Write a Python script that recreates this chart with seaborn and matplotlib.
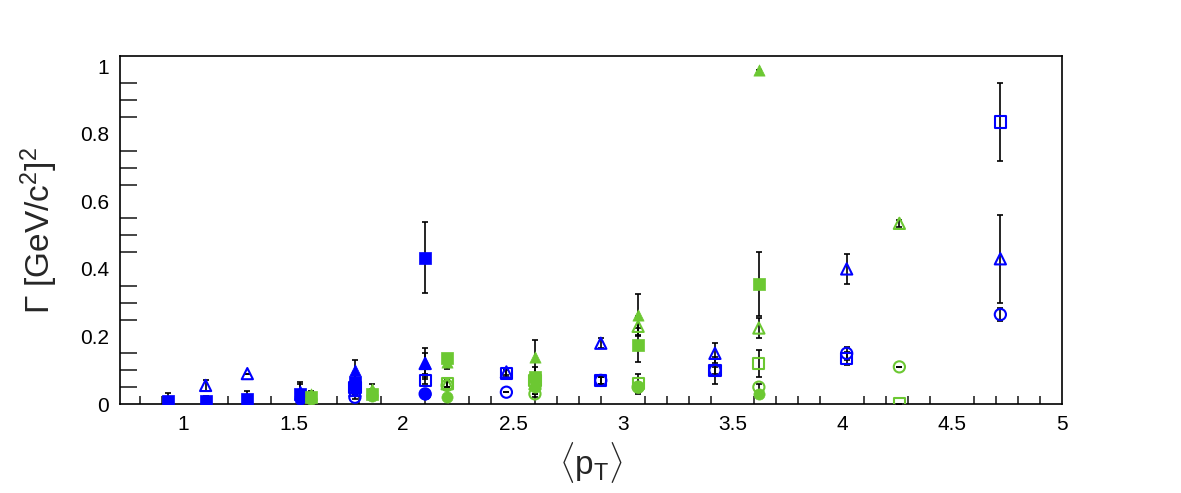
import numpy as np
import pandas as pd
import matplotlib
matplotlib.use("Agg")
import matplotlib.pyplot as plt
import seaborn as sns
from matplotlib.ticker import MultipleLocator

# ---------------- data ----------------
# blue series
bfs_x = [0.93, 1.10, 1.29, 1.53, 1.78, 2.10]
bfs_y = [0.008, 0.010, 0.015, 0.030, 0.065, 0.433]
bfs_e = [0.025, 0.015, 0.025, 0.035, 0.030, 0.105]

bft_x = [1.53, 1.78, 2.10]
bft_y = [0.040, 0.100, 0.120]
bft_e = [0.020, 0.030, 0.030]

bfc_x = [1.53, 1.78, 2.10]
bfc_y = [0.015, 0.045, 0.030]
bfc_e = [0.010, 0.015, 0.010]

bos_x = [1.78, 2.10, 2.47, 2.90, 3.42, 4.02, 4.72]
bos_y = [0.050, 0.070, 0.090, 0.070, 0.100, 0.135, 0.835]
bos_e = [0.010, 0.010, 0.010, 0.010, 0.040, 0.020, 0.115]

bot_x = [1.10, 1.29, 1.78, 2.10, 2.47, 2.90, 3.42, 4.02, 4.72]
bot_y = [0.055, 0.090, 0.040, 0.120, 0.095, 0.180, 0.150, 0.400, 0.430]
bot_e = [0.015, 0.000, 0.010, 0.045, 0.010, 0.015, 0.030, 0.045, 0.130]

boc_x = [1.78, 2.10, 2.47, 2.90, 3.42, 4.02, 4.72]
boc_y = [0.020, 0.030, 0.035, 0.070, 0.100, 0.150, 0.265]
boc_e = [0.005, 0.010, 0.000, 0.010, 0.010, 0.020, 0.020]

# green series
gfs_x = [1.58, 1.86, 2.20, 2.60, 3.07, 3.62]
gfs_y = [0.020, 0.030, 0.135, 0.080, 0.175, 0.355]
gfs_e = [0.010, 0.015, 0.010, 0.030, 0.050, 0.095]

gft_x = [1.58, 1.86, 2.20, 2.60, 3.07, 3.62]
gft_y = [0.030, 0.045, 0.125, 0.140, 0.265, 0.990]
gft_e = [0.010, 0.015, 0.020, 0.050, 0.060, 0.000]

gfc_x = [1.58, 1.86, 2.20, 2.60, 3.07, 3.62]
gfc_y = [0.015, 0.025, 0.020, 0.050, 0.050, 0.030]
gfc_e = [0.005, 0.010, 0.005, 0.020, 0.010, 0.010]

gos_x = [2.20, 2.60, 3.07, 3.62, 4.26]
gos_y = [0.060, 0.070, 0.060, 0.120, 0.000]
gos_e = [0.010, 0.020, 0.030, 0.040, 0.000]

got_x = [2.20, 2.60, 3.07, 3.62, 4.26]
got_y = [0.060, 0.060, 0.230, 0.225, 0.535]
got_e = [0.010, 0.030, 0.030, 0.030, 0.010]

goc_x = [2.20, 2.60, 3.07, 3.62, 4.26]
goc_y = [0.055, 0.030, 0.050, 0.050, 0.110]
goc_e = [0.010, 0.010, 0.010, 0.010, 0.000]

x_ticks = [1, 1.5, 2, 2.5, 3, 3.5, 4, 4.5, 5]
x_tick_labels = ["1", "1.5", "2", "2.5", "3", "3.5", "4", "4.5", "5"]
y_ticks = [0, 0.2, 0.4, 0.6, 0.8, 1.0]
y_tick_labels = ["0", "0.2", "0.4", "0.6", "0.8", "1"]

BLUE = "#0000FF"
GREEN = "#6CC832"

series = [
    (bfs_x, bfs_y, bfs_e, BLUE, "s", True),
    (bft_x, bft_y, bft_e, BLUE, "^", True),
    (bfc_x, bfc_y, bfc_e, BLUE, "o", True),
    (bos_x, bos_y, bos_e, BLUE, "s", False),
    (bot_x, bot_y, bot_e, BLUE, "^", False),
    (boc_x, boc_y, boc_e, BLUE, "o", False),
    (gfs_x, gfs_y, gfs_e, GREEN, "s", True),
    (gft_x, gft_y, gft_e, GREEN, "^", True),
    (gfc_x, gfc_y, gfc_e, GREEN, "o", True),
    (gos_x, gos_y, gos_e, GREEN, "s", False),
    (got_x, got_y, got_e, GREEN, "^", False),
    (goc_x, goc_y, goc_e, GREEN, "o", False),
]

# ---------------- style ----------------
sns.set_style("white")
plt.rcParams["font.family"] = ["Liberation Sans", "DejaVu Sans"]
plt.rcParams["mathtext.fontset"] = "custom"
plt.rcParams["mathtext.rm"] = "Liberation Sans"
plt.rcParams["mathtext.it"] = "Liberation Sans"
plt.rcParams["mathtext.sf"] = "Liberation Sans"

fig = plt.figure(figsize=(11.81, 4.93), dpi=100)
ax = fig.add_axes([0.1016, 0.1805, 0.7975, 0.7055])

for xs, ys, es, col, mk, filled in series:
    ax.errorbar(xs, ys, yerr=es, fmt="none", ecolor="black", elinewidth=1.2,
                capsize=2, capthick=1.2, zorder=2)
    df = pd.DataFrame({"x": xs, "y": ys})
    size = 65 if mk != "o" else 65
    if filled:
        sns.scatterplot(data=df, x="x", y="y", marker=mk, s=size, color=col,
                        edgecolor=col, linewidth=0.5, ax=ax, zorder=3, legend=False)
    else:
        sns.scatterplot(data=df, x="x", y="y", marker=mk, s=size, color="none",
                        edgecolor=col, linewidth=1.5, ax=ax, zorder=3, legend=False)

ax.set_xlim(0.71, 5.0)
ax.set_ylim(0, 1.03)
ax.set_xticks(x_ticks)
ax.set_xticklabels(x_tick_labels)
ax.set_yticks(y_ticks)
ax.set_yticklabels(y_tick_labels)
ax.xaxis.set_minor_locator(MultipleLocator(0.1))
ax.yaxis.set_minor_locator(MultipleLocator(0.05))
ax.tick_params(axis="both", which="major", direction="in", labelsize=15,
               labelcolor="black", color="black", width=1.2, top=False, right=False)
ax.tick_params(axis="x", which="major", length=12, pad=8)
ax.tick_params(axis="x", which="minor", direction="in", length=6, width=1.2,
               bottom=True, top=False)
ax.tick_params(axis="y", which="major", length=24, pad=8)
ax.tick_params(axis="y", which="minor", direction="in", length=12, width=1.2,
               left=True, right=False)
for sp in ax.spines.values():
    sp.set_color("black")
    sp.set_linewidth(1.2)
    sp.set_visible(True)

ax.set_xlabel(r"$\langle\mathregular{p_{T}}\rangle$", fontsize=24, labelpad=4)
ax.set_ylabel(r"$\mathregular{\Gamma\ [GeV/c^{2}]^{2}}$", fontsize=24, labelpad=14)

fig.savefig("out.png", dpi=100)
